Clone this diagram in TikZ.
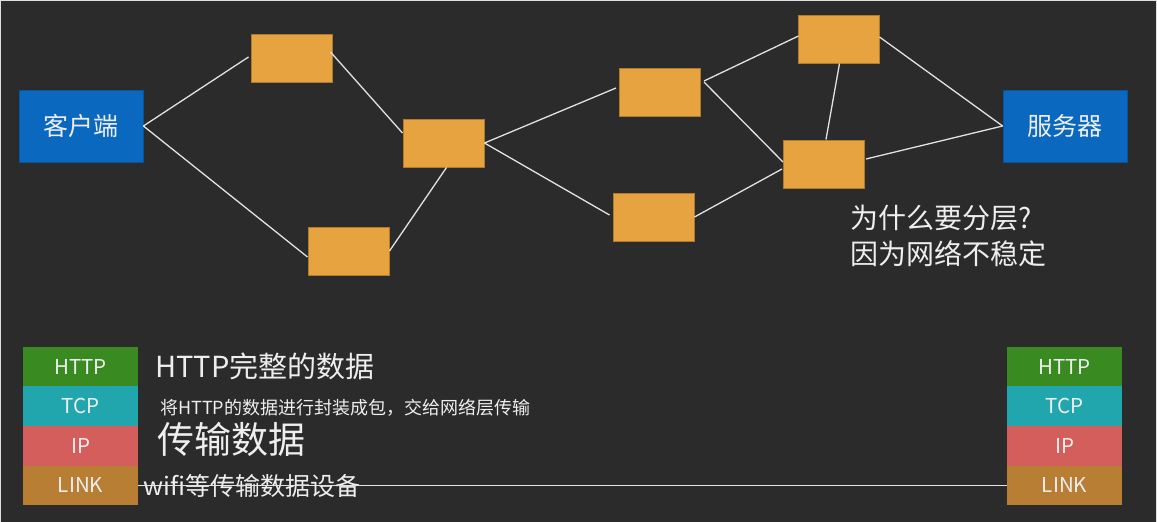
\documentclass[tikz,border=0pt]{standalone}
\usepackage{fontspec}
\setmainfont{Noto Sans CJK SC}
\usetikzlibrary{positioning}
\definecolor{bg}{HTML}{2B2B2B}
\definecolor{hostblue}{HTML}{0B68BF}
\definecolor{routerfill}{HTML}{E6A33F}
\definecolor{routeredge}{HTML}{B07A2E}
\definecolor{wire}{HTML}{E2E2E2}
\definecolor{txt}{HTML}{EEEEEE}
\definecolor{httpc}{HTML}{3A8A22}
\definecolor{tcpc}{HTML}{22A6AD}
\definecolor{ipc}{HTML}{D35E5B}
\definecolor{linkc}{HTML}{B87E34}
\newcommand{\fsz}[1]{\fontsize{#1}{#1}\selectfont}
\tikzset{
  host/.style={fill=hostblue, draw=hostblue!80!black, line width=0.8pt,
    minimum width=124pt, minimum height=72pt, inner sep=0pt,
    text=txt, font=\fsz{25}},
  router/.style={fill=routerfill, draw=routeredge, line width=1pt,
    minimum width=81pt, minimum height=48pt, inner sep=0pt},
  wirestyle/.style={draw=wire, line width=1.3pt},
  layer/.style={minimum width=115pt, minimum height=39.6pt, inner sep=0pt,
    text=txt, font=\fsz{20.5}},
  note/.style={anchor=west, inner sep=0pt, text=txt}
}
\begin{document}
\begin{tikzpicture}[x=1pt,y=-1pt]
  % canvas
  \fill[bg] (0,0) rectangle (1157,522);
  \useasboundingbox (0,0) rectangle (1157,522);
  \draw[white!85!bg, line width=1pt] (0.5,522) -- (0.5,0.5) -- (1156.5,0.5) -- (1156.5,522);

  % end hosts
  \node[host] (cli) at (81,126) {客户端};
  \node[host] (srv) at (1065,126) {服务器};

  % routers
  \node[router] (a) at (291.5,58) {};
  \node[router] (b) at (443.5,143) {};
  \node[router] (c) at (348.5,251) {};
  \node[router] (d) at (660,92) {};
  \node[router] (e) at (838.5,39) {};
  \node[router] (f) at (824,164) {};
  \node[router] (g) at (653.5,217) {};

  % links between hosts and routers
  \draw[wirestyle] (cli.east) -- ([shift={(-2pt,1pt)}]a.west);
  \draw[wirestyle] (cli.east) -- ([yshift=-6pt]c.west);
  \draw[wirestyle] ([shift={(-2pt,6pt)}]a.east) -- ([yshift=10pt]b.west);
  \draw[wirestyle] (c.east) -- ([xshift=3pt]b.south);
  \draw[wirestyle] (b.east) -- ([shift={(-3pt,4pt)}]d.west);
  \draw[wirestyle] (b.east) -- ([shift={(-3pt,2pt)}]g.west);
  \draw[wirestyle] ([shift={(3pt,11pt)}]d.east) -- ([shift={(1pt,3pt)}]e.west);
  \draw[wirestyle] ([shift={(3pt,10pt)}]d.east) -- ([yshift=2pt]f.west);
  \draw[wirestyle] (g.east) -- ([shift={(-1pt,-5pt)}]f.west);
  \draw[wirestyle] ([xshift=1pt]e.south) -- ([xshift=2pt]f.north);
  \draw[wirestyle] ([yshift=2pt]e.east) -- (srv.west);
  \draw[wirestyle] ([shift={(1pt,5pt)}]f.east) -- (srv.west);

  % question and answer
  \node[note, font=\fsz{28}] (why) at (850,218) {为什么要分层?};
  \node[note, font=\fsz{28}] (because) at (850,254) {因为网络不稳定};

  % protocol stack, sender side
  \node[layer, fill=httpc] (lhttp) at (80.5,366.5) {HTTP};
  \node[layer, fill=tcpc]  (ltcp)  at (80.5,406.1) {TCP};
  \node[layer, fill=ipc]   (lip)   at (80.5,445.7) {IP};
  \node[layer, fill=linkc] (llink) at (80.5,485.3) {LINK};

  % protocol stack, receiver side
  \node[layer, fill=httpc] (rhttp) at (1064.5,366.5) {HTTP};
  \node[layer, fill=tcpc]  (rtcp)  at (1064.5,406.1) {TCP};
  \node[layer, fill=ipc]   (rip)   at (1064.5,445.7) {IP};
  \node[layer, fill=linkc] (rlink) at (1064.5,485.3) {LINK};

  % layer descriptions
  \node[note, font=\fsz{29}] (dhttp) at (155,366) {HTTP完整的数据};
  \node[note, font=\fsz{18}] (dtcp) at (160,408) {将HTTP的数据进行封装成包，交给网络层传输};
  \node[note, font=\fsz{37}] (dip) at (157,439) {传输数据};
  \node[note, font=\fsz{25}] (dlink) at (143,486) {wifi等传输数据设备};

  % physical link between the two stacks
  \draw[wirestyle] (llink.east) -- (rlink.west);
\end{tikzpicture}
\end{document}
